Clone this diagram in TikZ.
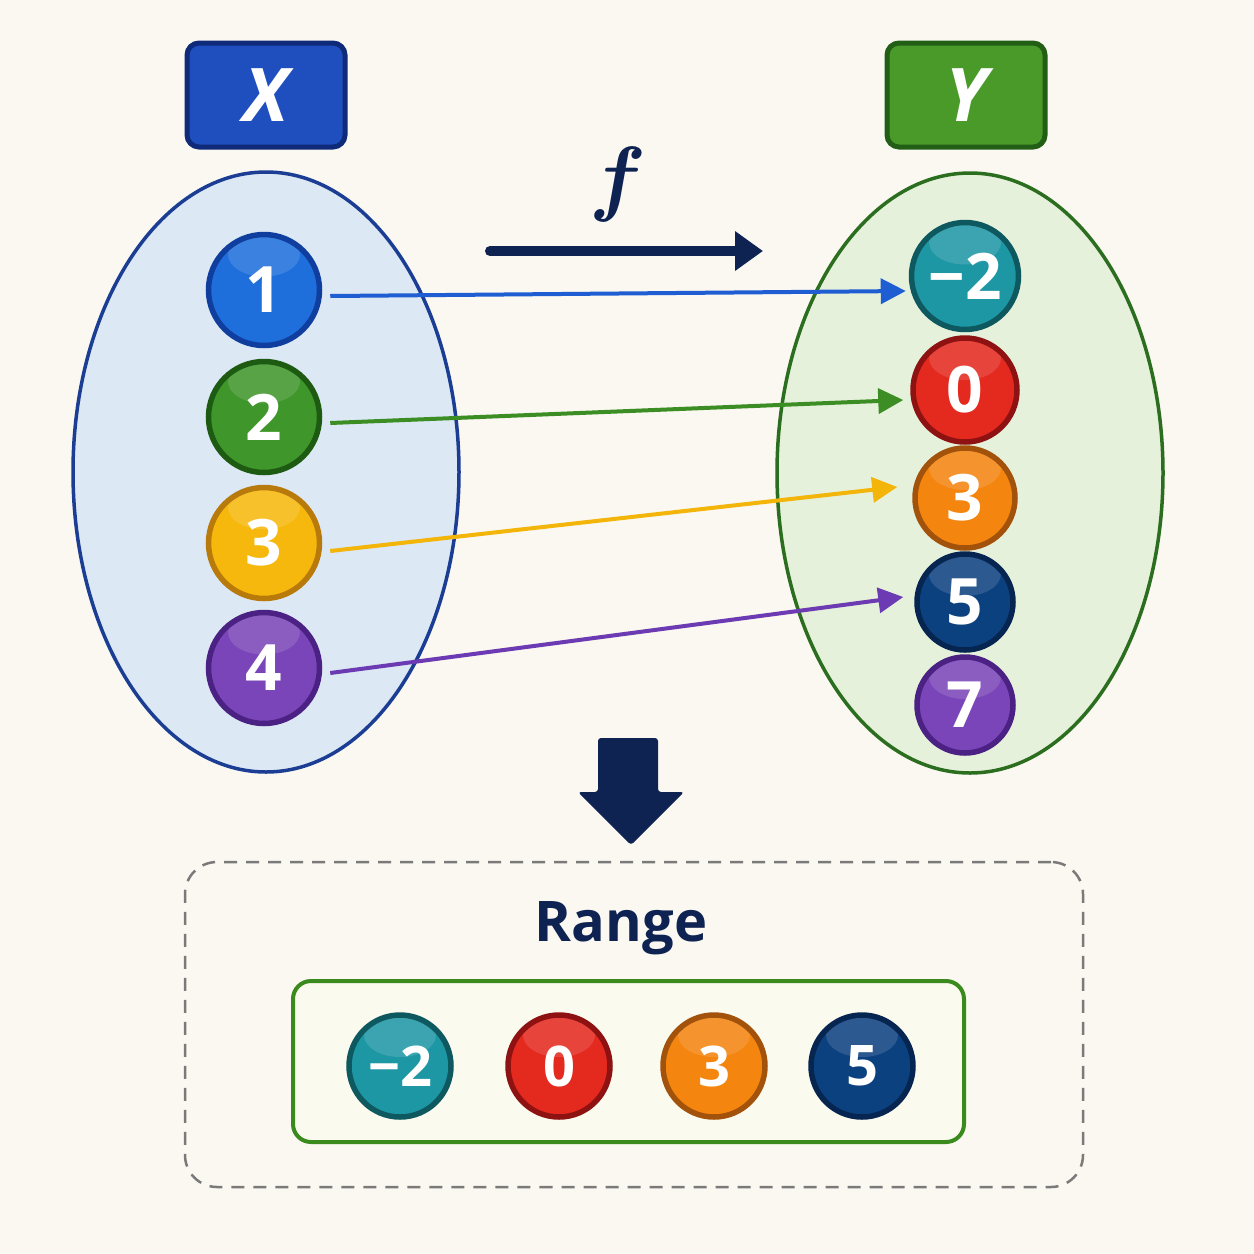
\RequirePackage{fix-cm}
\documentclass[tikz,border=0pt]{standalone}
\usepackage{fontspec}
\setmainfont{Open Sans}
\usetikzlibrary{arrows.meta,shapes.geometric,calc}
\definecolor{bg}{HTML}{FAF8F0}
\definecolor{navy}{HTML}{0F2352}
\definecolor{xfill}{HTML}{1F4FBF}\definecolor{xdraw}{HTML}{0E2A78}
\definecolor{yfill}{HTML}{4A9A2A}\definecolor{ydraw}{HTML}{225E16}
\definecolor{elLf}{HTML}{DCE8F4}\definecolor{elLd}{HTML}{1B3E94}
\definecolor{elRf}{HTML}{E5F1DA}\definecolor{elRd}{HTML}{2C6E1F}
\definecolor{cAf}{HTML}{1E6FDB}\definecolor{cAd}{HTML}{0F3E9E}
\definecolor{cBf}{HTML}{3F962A}\definecolor{cBd}{HTML}{1E5B12}
\definecolor{cCf}{HTML}{F6B80C}\definecolor{cCd}{HTML}{B87A0A}
\definecolor{cDf}{HTML}{7A45B8}\definecolor{cDd}{HTML}{4B2184}
\definecolor{cMf}{HTML}{1E97A5}\definecolor{cMd}{HTML}{0E5860}
\definecolor{cZf}{HTML}{E4291F}\definecolor{cZd}{HTML}{8E1212}
\definecolor{cOf}{HTML}{F4850F}\definecolor{cOd}{HTML}{A2520B}
\definecolor{cFf}{HTML}{0C4180}\definecolor{cFd}{HTML}{062550}
\definecolor{arA}{HTML}{1F5ED2}\definecolor{arB}{HTML}{3C8E24}
\definecolor{arC}{HTML}{F3B50A}\definecolor{arD}{HTML}{6C3AB2}
\definecolor{dashc}{HTML}{7A7A7A}\definecolor{gbox}{HTML}{3A8A1E}
\definecolor{gboxf}{HTML}{FBFAEE}
\tikzset{
  ball/.style={circle, inner sep=0pt, line width=5.5pt, text=white,
    font=\fontsize{64}{64}\selectfont\bfseries,
    path picture={\fill[white,opacity=0.13] ([yshift=-20pt]path picture bounding box.north) ellipse (36pt and 22pt);}},
  smallball/.style={ball, font=\fontsize{56}{56}\selectfont\bfseries},
  setlabel/.style={rectangle, rounded corners=12pt, line width=5pt, minimum width=158pt, minimum height=104pt,
    text=white, font=\fontsize{74}{74}\selectfont\bfseries\itshape},
  setell/.style={ellipse, line width=3.5pt, minimum width=386pt, minimum height=600pt},
  maparrow/.style={line width=4pt, -{Triangle[length=25pt,width=25pt]}},
}
\begin{document}
\begin{tikzpicture}[x=1pt,y=-1pt]
\fill[bg] (0,0) rectangle (1254,1254);
\useasboundingbox (0,0) rectangle (1254,1254);

% set labels
\node[setlabel, fill=xfill, draw=xdraw] (X) at (266,95) {X};
\node[setlabel, fill=yfill, draw=ydraw] (Y) at (966,95) {Y};

% ellipses
\node[setell, fill=elLf, draw=elLd] (domain) at (266,472) {};
\node[setell, fill=elRf, draw=elRd] (codomain) at (970,473) {};

% f arrow
\coordinate (fs) at (490,251);
\coordinate (fe) at (763,251);
\draw[navy, line width=10pt, line cap=round, -{Triangle[length=28pt,width=38pt]}] (fs) -- (fe);
\node[navy, font=\fontsize{84}{84}\selectfont\boldmath] (flab) at (618,184) {$f$};

% domain balls
\node[ball, minimum size=111pt, fill=cAf, draw=cAd] (a1) at (264,290) {1};
\node[ball, minimum size=111pt, fill=cBf, draw=cBd] (a2) at (264,417) {2};
\node[ball, minimum size=111pt, fill=cCf, draw=cCd] (a3) at (264,543) {3};
\node[ball, minimum size=111pt, fill=cDf, draw=cDd] (a4) at (264,668) {4};

% codomain balls
\node[ball, minimum size=107pt, fill=cMf, draw=cMd] (b1) at (965,276) {−2};
\node[ball, minimum size=104pt, fill=cZf, draw=cZd] (b2) at (965,390) {0};
\node[ball, minimum size=100pt, fill=cOf, draw=cOd] (b3) at (965,498) {3};
\node[ball, minimum size=96pt, fill=cFf, draw=cFd] (b4) at (965,602) {5};
\node[ball, minimum size=96pt, fill=cDf, draw=cDd] (b5) at (965,705) {7};

% mapping arrows
\draw[maparrow, arA] ($(a1.east)+(8,6)$) -- ($(b1.west)+(-3,15)$);
\draw[maparrow, arB] ($(a2.east)+(8,6)$) -- ($(b2.west)+(-7,10)$);
\draw[maparrow, arC] ($(a3.east)+(8,8)$) -- ($(b3.west)+(-15,-11)$);
\draw[maparrow, arD] ($(a4.east)+(8,5)$) -- ($(b4.west)+(-11,-5)$);

% down arrow
\fill[navy, rounded corners=3pt] (598,738) -- (658,738) -- (658,792) -- (684,792) -- (631,845) -- (578,792) -- (598,792) -- cycle;

% range box
\node[draw=dashc, line width=2.5pt, dash pattern=on 13pt off 9pt, rounded corners=32pt,
  minimum width=898pt, minimum height=325pt] (rangebox) at (634,1024.5) {};
\node[navy, font=\fontsize{56}{56}\selectfont\bfseries] (rangelab) at (621,928) {Range};
\node[draw=gbox, fill=gboxf, line width=4pt, rounded corners=18pt,
  minimum width=671pt, minimum height=161pt] (rangeset) at (628.5,1061.5) {};

\node[smallball, minimum size=102pt, fill=cMf, draw=cMd] (r1) at (400,1066) {−2};
\node[smallball, minimum size=102pt, fill=cZf, draw=cZd] (r2) at (559,1066) {0};
\node[smallball, minimum size=102pt, fill=cOf, draw=cOd] (r3) at (714,1066) {3};
\node[smallball, minimum size=102pt, fill=cFf, draw=cFd] (r4) at (862,1066) {5};
\end{tikzpicture}
\end{document}
